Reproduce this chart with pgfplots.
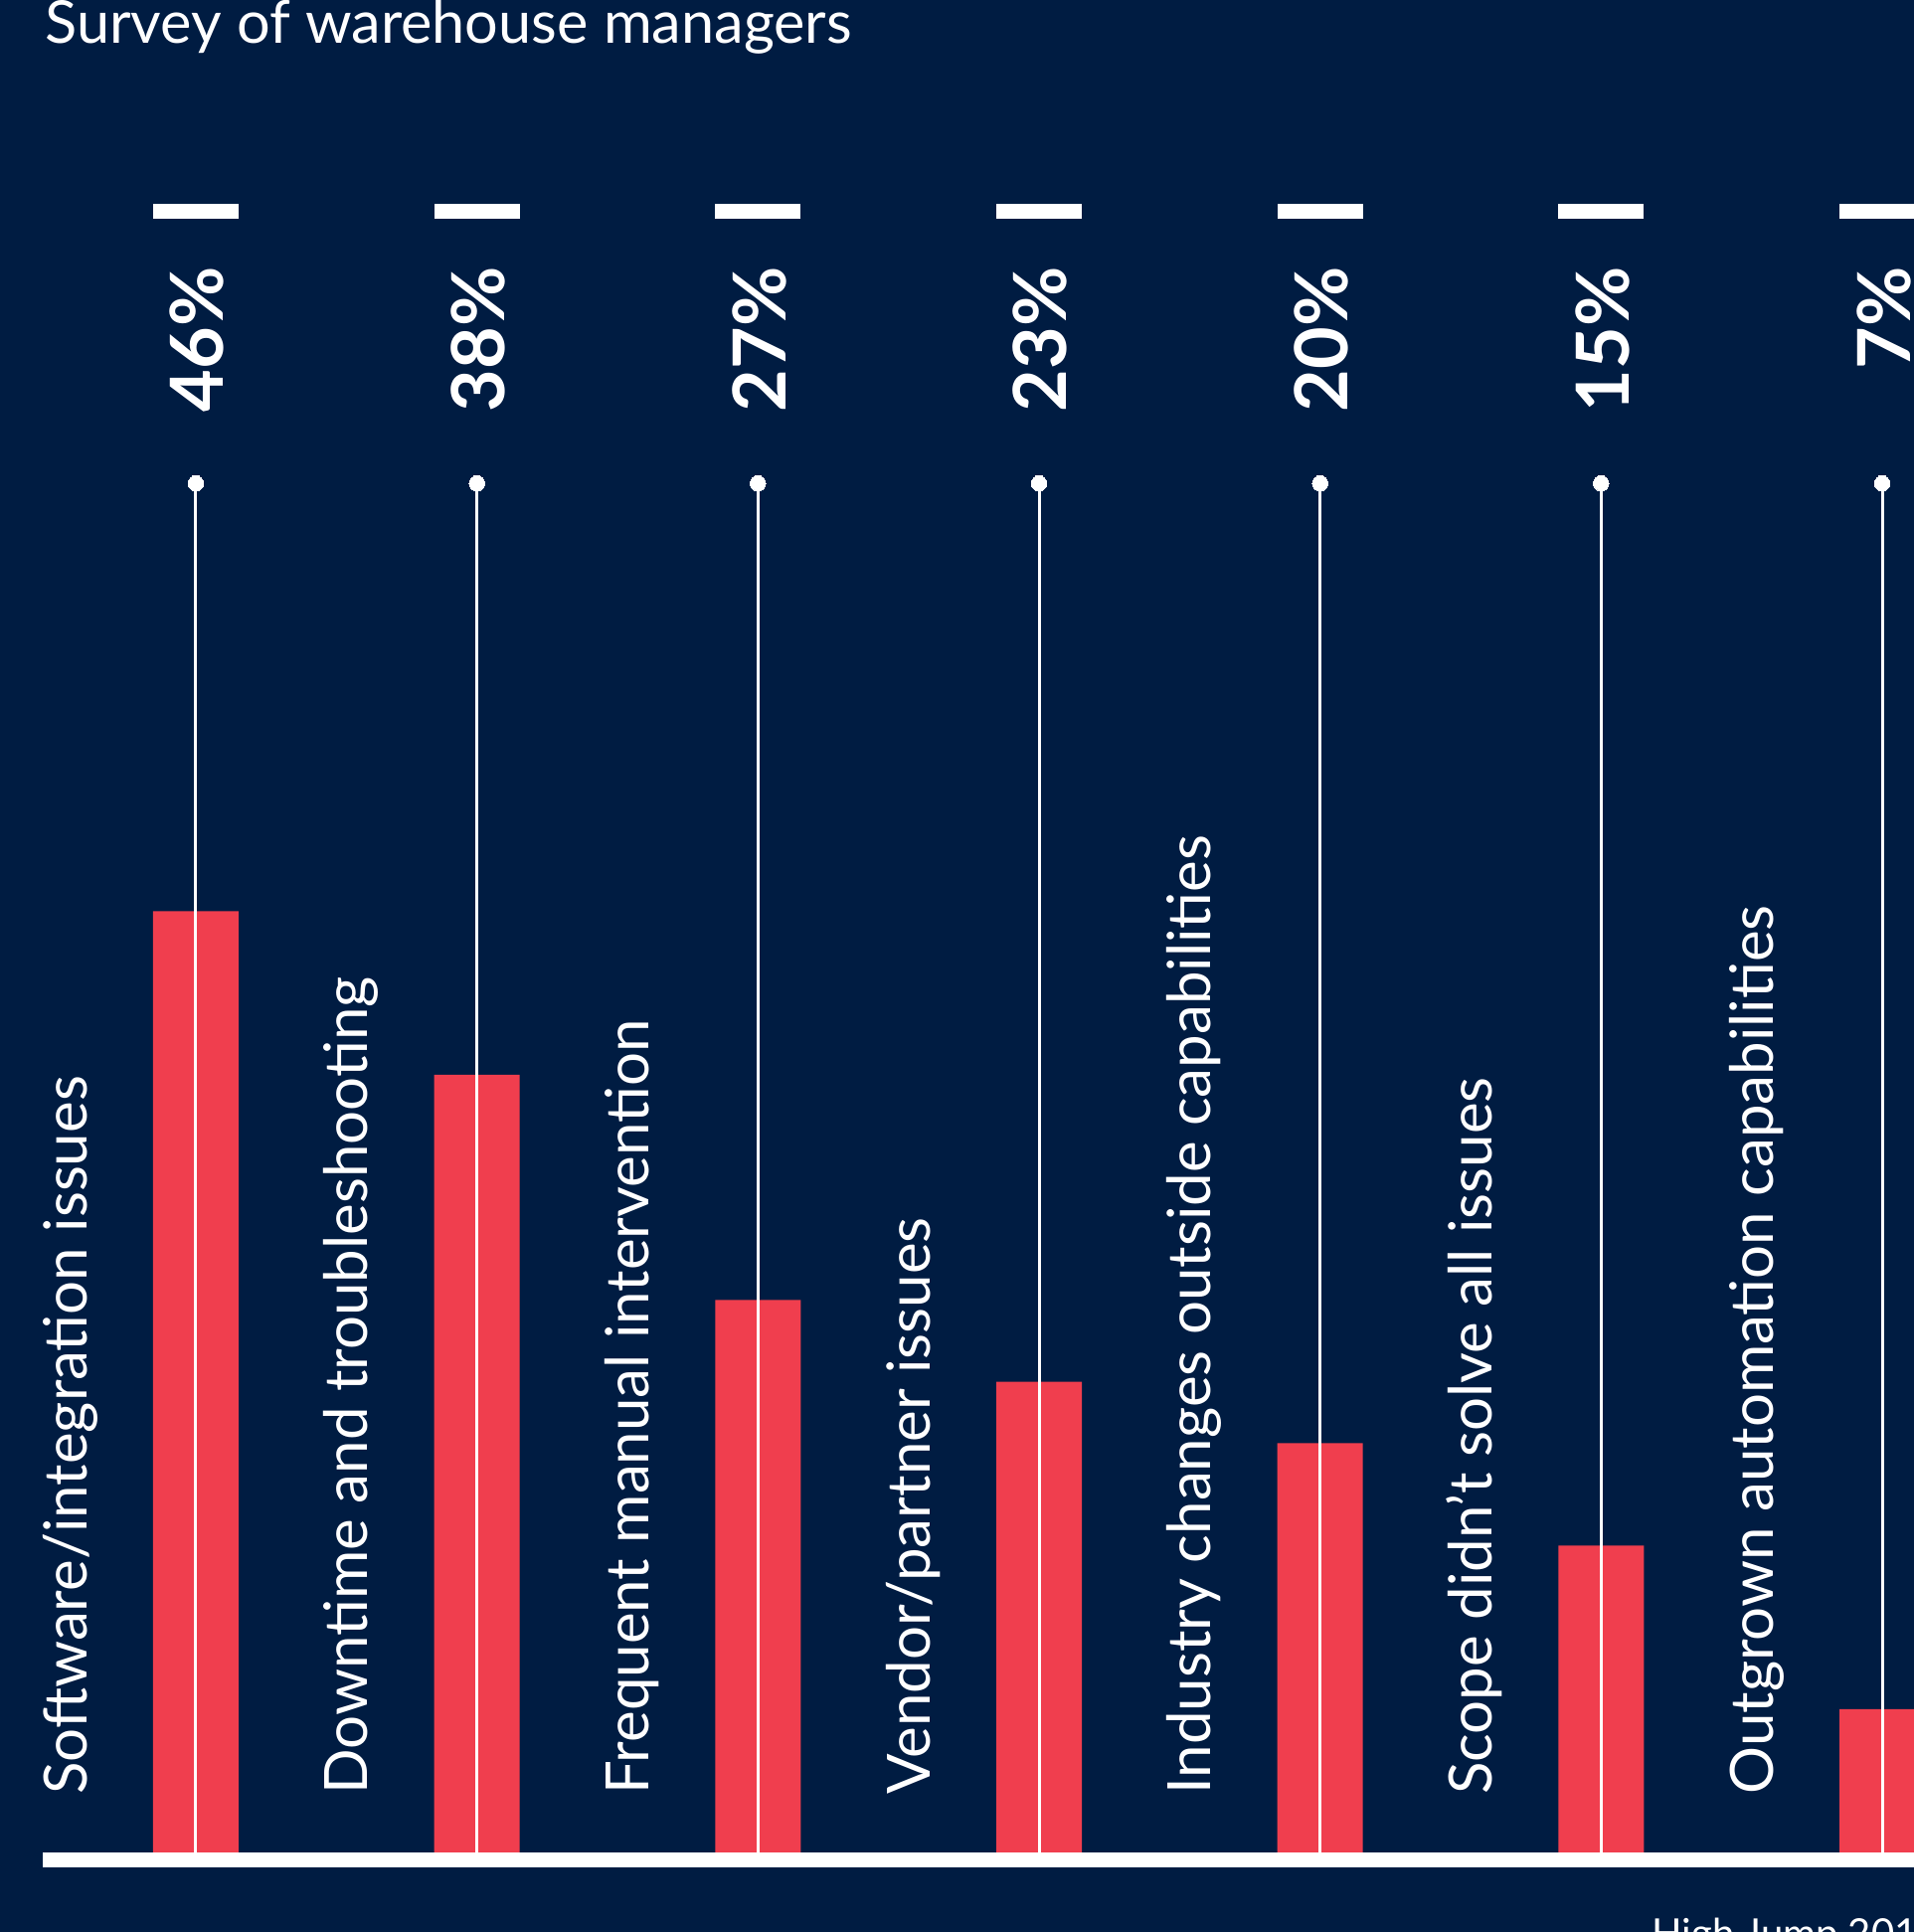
\documentclass[border=0pt]{standalone}
\usepackage{fontspec}
\setmainfont{Lato}
\usepackage{pgfplots}
\pgfplotsset{compat=1.18}
\definecolor{navy}{RGB}{0,28,66}
\definecolor{barred}{RGB}{240,62,78}
\begin{document}
\begin{tikzpicture}
\path[use as bounding box] (0,0) rectangle (962.5pt,971.5pt);
\clip (0,0) rectangle (962.5pt,971.5pt);
\fill[navy] (0,0) rectangle (962.5pt,971.5pt);
\begin{axis}[
  at={(0,0)}, anchor=south west,
  scale only axis, width=962.5pt, height=971.5pt,
  xmin=-0.6969, xmax=6.1132, ymin=-3.887, ymax=90.52,
  axis lines=none, clip=false,
]
% bars
\addplot[ybar, bar width=43pt, fill=barred, draw=none] coordinates {
(0,46) (1,38) (2,27) (3,23) (4,20) (5,15) (6,7)};
% baseline
\fill[white] (axis cs:-0.5454,0) rectangle (axis cs:6.2,-0.73);
% stems with dots
\addplot[ycomb, white, line width=1.5pt, mark=*, mark size=3.9pt, mark options={fill=white, draw=white, line width=0pt}] coordinates {
(0,66.9) (1,66.9) (2,66.9) (3,66.9) (4,66.9) (5,66.9) (6,66.9)};
% top dashes
\addplot[only marks, mark=-, mark size=21.5pt, mark options={line width=7.2pt, draw=white}] coordinates {
(0,80.2) (1,80.2) (2,80.2) (3,80.2) (4,80.2) (5,80.2) (6,80.2)};
% percentage labels (text ends aligned at top)
\addplot[draw=none, mark=none, nodes near coords, point meta=explicit symbolic,
  every node near coord/.style={anchor=base east, rotate=90, inner sep=0pt, text=white, font=\fontsize{36.8pt}{40pt}\selectfont\bfseries}] coordinates {
(0.099,77.5)[46\%] (1.099,77.5)[38\%] (2.099,77.5)[27\%] (3.099,77.5)[23\%] (4.099,77.5)[20\%] (5.099,77.5)[15\%] (6.099,77.5)[7\%]};
% category labels
\addplot[draw=none, mark=none, nodes near coords, point meta=explicit symbolic,
  every node near coord/.style={anchor=base west, rotate=90, inner sep=0pt, text=white, font=\fontsize{30pt}{32pt}\selectfont}] coordinates {
(-0.389,2.82)[Software/integration issues]
(0.611,2.82)[Downtime and troubleshooting]
(1.611,2.82)[Frequent manual intervention]
(2.611,2.82)[Vendor/partner issues]
(3.611,2.82)[Industry changes outside capabilities]
(4.611,2.82)[Scope didn’t solve all issues]
(5.611,2.82)[Outgrown automation capabilities]};
\end{axis}
\node[anchor=base west, inner sep=0pt, text=white, font=\fontsize{29.7pt}{32pt}\selectfont] at (22.5pt,949.5pt) {Survey of warehouse managers};
\node[anchor=base west, inner sep=0pt, text=white, font=\fontsize{20pt}{22pt}\selectfont] at (830.5pt,-8pt) {High Jump 2019};
\end{tikzpicture}
\end{document}
